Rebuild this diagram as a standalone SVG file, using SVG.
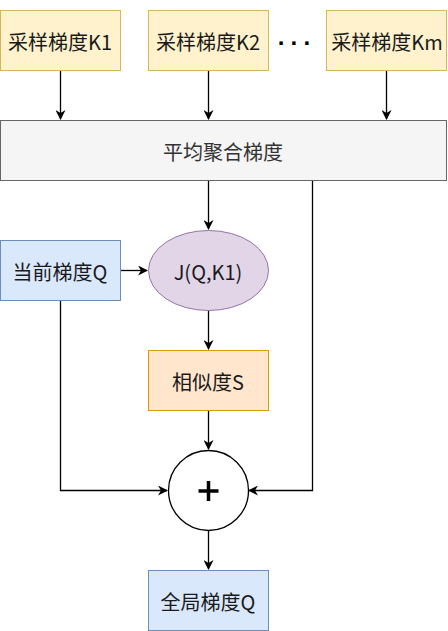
<svg xmlns="http://www.w3.org/2000/svg" width="448" height="631" viewBox="0 0 448 631">
  <defs>
    <marker id="arrow" viewBox="0 0 10 10" refX="9" refY="5" markerWidth="10" markerHeight="10" markerUnits="userSpaceOnUse" orient="auto">
      <path d="M0,0 L10,5 L0,10 L3,5 Z" fill="#000"/>
    </marker>
    <style>
      .lbl { font-family: "Noto Sans CJK SC", "Noto Sans", sans-serif; font-size: 20px; fill: #1a1a1a; text-anchor: middle; dominant-baseline: central; }
      .yellow { fill: #fff2cc; stroke: #d6b656; stroke-width: 1; }
      .blue { fill: #dae8fc; stroke: #6c8ebf; stroke-width: 1; }
      .purple { fill: #e1d5e7; stroke: #9673a6; stroke-width: 1; }
      .orange { fill: #ffe6cc; stroke: #d79b00; stroke-width: 1; }
      .gray { fill: #f5f5f5; stroke: #666666; stroke-width: 1; }
      .edge { fill: none; stroke: #000; stroke-width: 1.3; marker-end: url(#arrow); }
    </style>
  </defs>
  <rect width="448" height="631" fill="#fff"/>

  <g id="connectors">
    <path class="edge" d="M60.5,70 V119"/>
    <path class="edge" d="M208.5,70 V119"/>
    <path class="edge" d="M386.5,70 V119"/>
    <path class="edge" d="M208.5,180 V229"/>
    <path class="edge" d="M120,270.5 H147"/>
    <path class="edge" d="M208.5,310 V349"/>
    <path class="edge" d="M208.5,410 V449"/>
    <path class="edge" d="M60.5,300 V490.5 H167"/>
    <path class="edge" d="M312.5,180 V490.5 H249"/>
    <path class="edge" d="M208.5,530 V569"/>
  </g>

  <g id="k1">
    <rect class="yellow" x="0.5" y="10.5" width="120" height="60"/>
    <text class="lbl" x="60" y="41">采样梯度K1</text>
  </g>
  <g id="k2">
    <rect class="yellow" x="148.5" y="10.5" width="120" height="60"/>
    <text class="lbl" x="208" y="41">采样梯度K2</text>
  </g>
  <g id="ellipsis">
    <text x="297" y="42" font-family="Liberation Sans, sans-serif" font-size="24" font-weight="bold" text-anchor="middle" dominant-baseline="central" letter-spacing="4.8" fill="#000">···</text>
  </g>
  <g id="km">
    <rect class="yellow" x="326.5" y="10.5" width="120" height="60"/>
    <text class="lbl" x="387" y="41">采样梯度Km</text>
  </g>

  <g id="aggregate">
    <rect class="gray" x="0.5" y="120.5" width="446" height="60"/>
    <text class="lbl" x="223" y="151" style="fill:#333">平均聚合梯度</text>
  </g>

  <g id="current-q">
    <rect class="blue" x="0.5" y="240.5" width="120" height="60"/>
    <text class="lbl" x="60" y="271">当前梯度Q</text>
  </g>

  <g id="j-func">
    <ellipse class="purple" cx="208.5" cy="270.5" rx="60" ry="40"/>
    <text class="lbl" x="208" y="271">J(Q,K1)</text>
  </g>

  <g id="similarity">
    <rect class="orange" x="148.5" y="350.5" width="120" height="60"/>
    <text class="lbl" x="208" y="381">相似度S</text>
  </g>

  <g id="sum">
    <circle cx="208.5" cy="490.5" r="40" fill="#fff" stroke="#000" stroke-width="1.3"/>
    <path d="M198.5,491 H218.5 M208.5,481 V501" stroke="#000" stroke-width="3.5"/>
  </g>

  <g id="global-q">
    <rect class="blue" x="148.5" y="570.5" width="120" height="60"/>
    <text class="lbl" x="208" y="601">全局梯度Q</text>
  </g>
</svg>
